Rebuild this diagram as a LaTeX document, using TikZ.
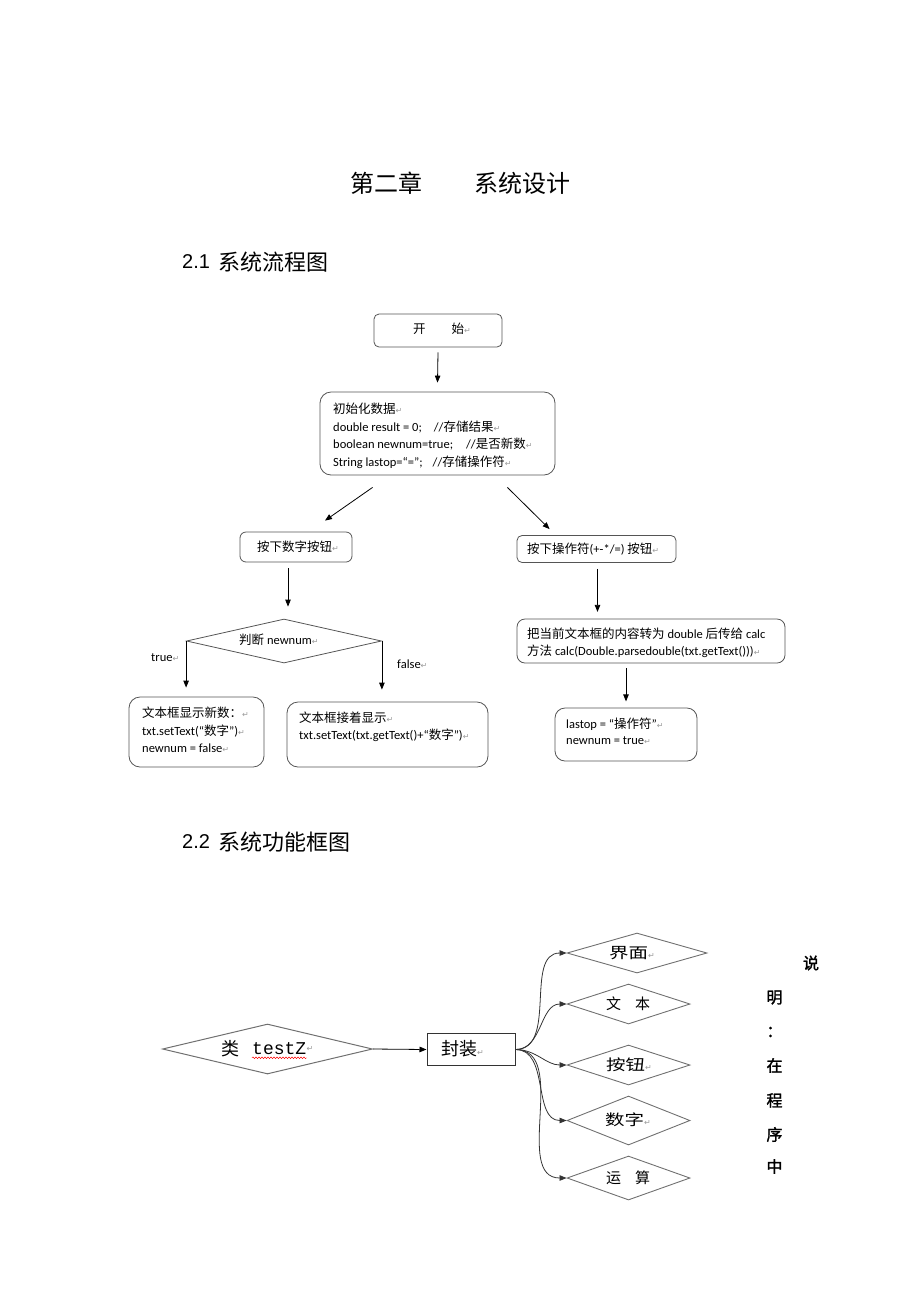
\documentclass[tikz,border=0pt]{standalone}
\usepackage{fontspec}
\usetikzlibrary{arrows.meta,shapes.geometric,calc,decorations.pathmorphing}
\setmainfont{Carlito}
\newfontfamily\cjk{Noto Sans CJK SC}
\newfontfamily\cjkb[FakeBold=1.6]{Noto Sans CJK SC}
\newfontfamily\cjkw[FakeStretch=1.3]{Noto Sans CJK SC}
\newfontfamily\arialf{Liberation Sans}
\newfontfamily\monof{Liberation Mono}
\newfontfamily\symf{DejaVu Sans}
\definecolor{boxc}{HTML}{555555}
\definecolor{diac}{HTML}{707070}
\definecolor{retc}{HTML}{9A9A9A}
\newcommand\C[1]{{\cjk #1}}
\newcommand\R{{\symf\color{retc}\fontsize{8}{8}\selectfont ↵}}
\begin{document}
\begin{tikzpicture}[x=1pt,y=-1pt,
  rbox/.style={draw=boxc, line width=0.8pt, inner sep=0pt},
  arr/.style={-{Triangle[length=7pt,width=5.5pt]}, line width=0.8pt, black},
  carr/.style={-{Triangle[length=7pt,width=5.5pt]}, line width=0.8pt, black!80},
  ft/.style={anchor=west, inner sep=0pt, font=\fontsize{12.5}{14}\selectfont},
  rdia/.style={diamond, draw=diac, line width=0.9pt, inner sep=0pt, aspect=3},
  dtxt/.style={anchor=west, inner sep=0pt, font=\fontsize{15}{15}\selectfont},
  vtxt/.style={inner sep=0pt, font=\fontsize{16}{16}\selectfont\cjkb}
]
\useasboundingbox (0,0) rectangle (920,1302);

% ---------- headings ----------
\node[anchor=west, inner sep=0pt] (t1) at (350,183) {\fontsize{24}{24}\selectfont\C{第二章}};
\node[anchor=west, inner sep=0pt] (t2) at (474,183) {\fontsize{24}{24}\selectfont\C{系统设计}};
\node[anchor=west, inner sep=0pt] (h1n) at (182,262) {\fontsize{20}{20}\selectfont\arialf 2.1};
\node[anchor=west, inner sep=0pt] (h1t) at (218,262) {\fontsize{22}{22}\selectfont\C{系统流程图}};
\node[anchor=west, inner sep=0pt] (h2n) at (182,842) {\fontsize{20}{20}\selectfont\arialf 2.2};
\node[anchor=west, inner sep=0pt] (h2t) at (218,842) {\fontsize{22}{22}\selectfont\C{系统功能框图}};

% ---------- flowchart ----------
\node[rbox, rounded corners=5pt, minimum width=128, minimum height=33] (start) at (438,330.5) {};
\node[ft] (tstart) at (413,328.5) {\C{开}\hspace{26pt}\C{始}\R};

\node[rbox, rounded corners=11pt, minimum width=235, minimum height=83] (init) at (437.5,433.5) {};
\node[ft] (i1) at (333,409) {\C{初始化数据}\R};
\node[ft] (i2) at (333,427) {double result = 0;\hspace{12pt}//\C{存储结果}\R};
\node[ft] (i3) at (333,444) {boolean newnum=true;\hspace{13pt}//\C{是否新数}\R};
\node[ft] (i4) at (333,462) {String lastop=“=”;\hspace{10pt}//\C{存储操作符}\R};

\node[rbox, rounded corners=6pt, minimum width=112, minimum height=30] (lbtn) at (296,547) {};
\node[ft] (tl) at (257,547) {\C{按下数字按钮}\R};
\node[rbox, rounded corners=5pt, minimum width=159, minimum height=27] (rbtn) at (596.5,549) {};
\node[ft] (tr) at (527,549) {\C{按下操作符}(+-*/=)\ \C{按钮}\R};

\node[diamond, draw=boxc, line width=0.8pt, inner sep=0pt, aspect=4.4, minimum width=195, minimum height=44] (dia) at (284,641) {};
\node[ft] (tdia) at (239,640) {\C{判断} newnum\R};

\node[rbox, rounded corners=11pt, minimum width=135, minimum height=70] (tb) at (196.5,732) {};
\node[ft] (tb1) at (142,713) {\C{文本框显示新数：}\R};
\node[ft] (tb2) at (142,731) {txt.setText(“\C{数字}”)\R};
\node[ft] (tb3) at (142,748) {newnum = false\R};

\node[rbox, rounded corners=11pt, minimum width=201, minimum height=65] (fb) at (387.5,734.5) {};
\node[ft] (fb1) at (299,718) {\C{文本框接着显示}\R};
\node[ft] (fb2) at (299,735) {txt.setText(txt.getText()+“\C{数字}”)\R};

\node[rbox, rounded corners=8pt, minimum width=268, minimum height=44] (cb) at (651,641) {};
\node[ft] (cb1) at (527,634) {\C{把当前文本框的内容转为} double \C{后传给} calc};
\node[ft] (cb2) at (527,651) {\C{方法} calc(Double.parsedouble(txt.getText()))\R};

\node[rbox, rounded corners=10pt, minimum width=142, minimum height=53] (lb) at (626,734.5) {};
\node[ft] (lb1) at (566,724) {lastop = “\C{操作符}”\R};
\node[ft] (lb2) at (566,741) {newnum = true\R};

\node[ft] (ltrue) at (151,658) {true\R};
\node[ft] (lfalse) at (397,664) {false\R};

\draw[arr] ([yshift=-5pt]start.south) -- ([yshift=9pt]init.north);
\draw[arr] ($(init.south west)+(53,12)$) -- ($(lbtn.north)+(29,-11)$);
\draw[arr] ($(init.south east)+(-48,12)$) -- ($(rbtn.north west)+(33,-6)$);
\draw[arr] ($(lbtn.south)+(-8,6)$) -- ($(dia.north)+(4,-12)$);
\draw[arr] (dia.west) -- ($(dia.west |- tb.north)+(0,-9)$);
\draw[arr] (dia.east) -- ($(dia.east |- fb.north)+(0,-12)$);
\draw[arr] ($(rbtn.south)+(1,6)$) -- ($(rbtn.south)+(1,49)$);
\draw[arr] ($(cb.south)+(-25,5)$) -- ($(cb.south)+(-25,38)$);

% ---------- function diagram ----------
\node[diamond, draw=diac, line width=1pt, inner sep=0pt, aspect=4, minimum width=210, minimum height=50] (cls) at (267.5,1049) {};
\node[anchor=west, inner sep=0pt, font=\fontsize{18}{18}\selectfont] (clsa) at (221,1049) {\C{类}};
\node[anchor=west, inner sep=0pt, font=\fontsize{18}{18}\selectfont\monof] (clsb) at (252,1049) {testZ};
\node[anchor=west, inner sep=0pt] (clsr) at (clsb.east) {\R};
\draw[red, line width=0.5pt, decorate, decoration={snake, amplitude=0.8pt, segment length=3pt}]
  ([yshift=-2.5pt]clsb.south west) -- ([yshift=-2.5pt]clsb.south east);

\node[draw=black!80, line width=1pt, inner sep=0pt, minimum width=88, minimum height=31.5] (pkg) at (471,1049.5) {};
\node[anchor=west, inner sep=0pt, font=\fontsize{18}{18}\selectfont] (pkgt) at (441,1049) {\C{封装}\R};
\draw[arr] (cls.east) -- (pkg.west);

\node[rdia, minimum width=140, minimum height=40] (d1) at (637,953) {};
\node[rdia, minimum width=123, minimum height=40] (d2) at (628.5,1004) {};
\node[rdia, minimum width=123, minimum height=40] (d3) at (628.5,1065) {};
\node[rdia, minimum width=123, minimum height=49] (d4) at (628.5,1120.5) {};
\node[rdia, minimum width=123, minimum height=44] (d5) at (628.5,1178) {};

\node[dtxt] (d1t) at (609,953) {{\cjkw 界面}\R};
\node[dtxt] (d2t) at (606,1004) {\C{文}\hspace{14pt}\C{本}};
\node[dtxt] (d3t) at (606,1065) {{\cjkw 按钮}\R};
\node[dtxt] (d4t) at (605,1120) {{\cjkw 数字}\R};
\node[dtxt] (d5t) at (606,1178) {\C{运}\hspace{14pt}\C{算}};

\foreach \d in {d1,d2,d3,d4,d5}
  \draw[carr] (pkg.east) to[out=0,in=180] (\d.west);

\node[vtxt] (v1) at (811,963) {说};
\node[vtxt] (v2) at (774.5,997.5) {明};
\node[vtxt] (v3) at (774.5,1032) {：};
\node[vtxt] (v4) at (774.5,1065.5) {在};
\node[vtxt] (v5) at (774.5,1100.5) {程};
\node[vtxt] (v6) at (774.5,1134.5) {序};
\node[vtxt] (v7) at (774.5,1166.5) {中};
\end{tikzpicture}
\end{document}
